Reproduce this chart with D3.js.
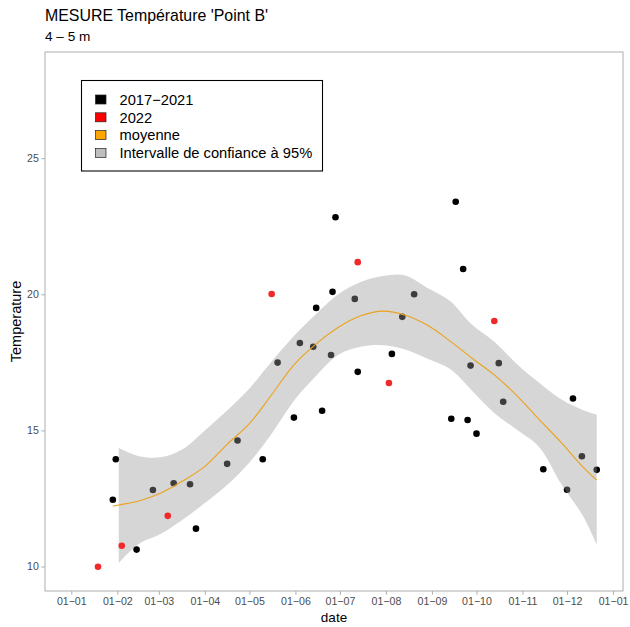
<!DOCTYPE html>
<html>
<head>
<meta charset="utf-8">
<script src="https://cdn.jsdelivr.net/npm/d3@7"></script>
<style>
  body { margin: 0; background: #fff; }
  svg { display: block; font-family: "Liberation Sans", Arial, sans-serif; }
</style>
</head>
<body>
<div id="chart"></div>
<script>
(function(){
  "use strict";

  // measurements 2017-2021 (all years folded on 2022)
  const pastDates = [
    "2022-01-31", "2022-01-29", "2022-02-14", "2022-02-25", "2022-03-11",
    "2022-03-22", "2022-03-26", "2022-04-16", "2022-04-23", "2022-05-10",
    "2022-05-20", "2022-05-31", "2022-06-04", "2022-06-13", "2022-06-15",
    "2022-06-19", "2022-06-25", "2022-06-26", "2022-06-28", "2022-07-11",
    "2022-07-13", "2022-08-05", "2022-08-12", "2022-08-20", "2022-09-14",
    "2022-09-17", "2022-09-22", "2022-09-25", "2022-09-27", "2022-10-01",
    "2022-10-16", "2022-10-19", "2022-11-15", "2022-12-01", "2022-12-05",
    "2022-12-11", "2022-12-21"
  ];
  const pastTemps = [
    13.94, 12.45, 10.62, 12.81, 13.06,
    13.02, 11.39, 13.77, 14.63, 13.94,
    17.49, 15.47, 18.21, 18.07, 19.50,
    15.72, 17.77, 20.09, 22.83, 19.83,
    17.15, 17.81, 19.17, 20.00, 15.43,
    23.40, 20.93, 15.38, 17.38, 14.88,
    17.47, 16.05, 13.57, 12.82, 16.17,
    14.05, 13.55
  ];

  // measurements 2022
  const curDates = [
    "2022-01-19", "2022-02-04", "2022-03-07", "2022-05-16",
    "2022-07-13", "2022-08-03", "2022-10-13"
  ];
  const curTemps = [9.99, 10.76, 11.86, 20.01, 21.18, 16.74, 19.02];

  // smoothed mean and 95% band
  const smoothDates = [
    "2022-01-29", "2022-02-02", "2022-02-15", "2022-03-02", "2022-03-17",
    "2022-04-01", "2022-04-16", "2022-05-01", "2022-05-16", "2022-05-31",
    "2022-06-15", "2022-06-30", "2022-07-15", "2022-07-30", "2022-08-14",
    "2022-08-29", "2022-09-13", "2022-09-28", "2022-10-13", "2022-10-28",
    "2022-11-12", "2022-11-27", "2022-12-12", "2022-12-21"
  ];
  const smoothMean = [
    12.21, 12.26, 12.40, 12.69, 13.14,
    13.68, 14.49, 15.25, 16.31, 17.41,
    18.18, 18.79, 19.21, 19.38, 19.23,
    18.86, 18.29, 17.65, 17.04, 16.29,
    15.41, 14.56, 13.64, 13.17
  ];
  const bandLow = [
    null, 10.13, 10.81, 11.19, 11.72,
    12.33, 12.99, 13.82, 14.88, 16.09,
    17.01, 17.78, 18.07, 18.13, 17.97,
    17.63, 17.26, 16.46, 15.64, 15.03,
    14.40, 13.04, 11.83, 10.81
  ];
  const bandHigh = [
    null, 14.35, 14.06, 14.01, 14.31,
    15.00, 15.73, 16.54, 17.53, 18.47,
    19.28, 20.01, 20.45, 20.67, 20.69,
    20.23, 19.76, 18.88, 18.26, 17.45,
    16.76, 16.14, 15.74, 15.58
  ];

  const yTicks = [10, 15, 20, 25];
  const xLimits = ["2022-01-01", "2022-12-21"];
  const yLimits = [10, 28];

  const legendLabels = ["2017\u22122021", "2022", "moyenne", "Intervalle de confiance \u00e0 95%"];
  const legendColors = ["#000000", "#ff0000", "#ffa500", "#bebebe"];

  const parse = d3.utcParse("%Y-%m-%d");

  // canvas and panel box
  const width = 630, height = 627;
  const panel = {left: 45, top: 52, right: 623, bottom: 591};

  const svg = d3.select("#chart")
    .append("svg")
    .attr("width", width)
    .attr("height", height);

  // ggplot style 5% expansion on both axes
  function expand(lo, hi){
    let pad = (hi - lo) * 0.05;
    return [lo - pad, hi + pad];
  }

  let xl = xLimits.map(s => +parse(s));
  let xs = d3.scaleUtc()
    .domain(expand(xl[0], xl[1]).map(v => new Date(v)))
    .range([panel.left, panel.right]);

  let ys = d3.scaleLinear()
    .domain(expand(yLimits[0], yLimits[1]))
    .range([panel.bottom, panel.top]);

  // titles
  svg.append("text")
    .attr("x", 45).attr("y", 21)
    .attr("font-size", 15.9).attr("fill", "#000")
    .text("MESURE Température 'Point B'");
  svg.append("text")
    .attr("x", 45).attr("y", 41)
    .attr("font-size", 13.6).attr("fill", "#000")
    .text("4 \u2013 5 m");

  // axes (light theme: grey ticks, no grid)
  let xTickDates = d3.utcMonth.range(parse("2022-01-01"), parse("2023-01-02"));
  let xAxis = d3.axisBottom(xs)
    .tickValues(xTickDates)
    .tickFormat(d => d3.utcFormat("%d-%m")(d).replace("-", "\u2212"))
    .tickSizeInner(3.7).tickSizeOuter(0).tickPadding(2.5);
  let gx = svg.append("g")
    .attr("transform", `translate(0,${panel.bottom})`)
    .call(xAxis);

  let yAxis = d3.axisLeft(ys)
    .tickValues(yTicks)
    .tickSizeInner(3.7).tickSizeOuter(0).tickPadding(2.5);
  let gy = svg.append("g")
    .attr("transform", `translate(${panel.left},0)`)
    .call(yAxis);

  [gx, gy].forEach(g => {
    g.select(".domain").remove();
    g.selectAll(".tick line").attr("stroke", "#b3b3b3").attr("stroke-width", 1.07);
    g.selectAll(".tick text")
      .attr("fill", "#4d4d4d")
      .attr("font-size", 10.6)
      .attr("font-family", "Liberation Sans, Arial, sans-serif");
  });

  svg.append("text")
    .attr("x", (panel.left + panel.right) / 2).attr("y", 621.5)
    .attr("text-anchor", "middle")
    .attr("font-size", 13.5)
    .text("date");
  svg.append("text")
    .attr("transform", `translate(20.5,${(panel.top + panel.bottom) / 2}) rotate(-90)`)
    .attr("text-anchor", "middle")
    .attr("font-size", 14.5)
    .text("Temperature");

  // plotting layer, clipped to panel
  svg.append("clipPath").attr("id", "clip")
    .append("rect")
    .attr("x", panel.left).attr("y", panel.top)
    .attr("width", panel.right - panel.left)
    .attr("height", panel.bottom - panel.top);
  let plot = svg.append("g").attr("clip-path", "url(#clip)");

  // 2017-2021 points first, the band is laid over them
  plot.selectAll("circle.past")
    .data(pastDates.map((d, i) => ({date: parse(d), t: pastTemps[i]})))
    .enter().append("circle")
    .attr("class", "past")
    .attr("cx", d => xs(d.date))
    .attr("cy", d => ys(d.t))
    .attr("r", 3.3)
    .attr("fill", "#000");

  let smooth = smoothDates.map((d, i) => ({
    date: parse(d), m: smoothMean[i], lo: bandLow[i], hi: bandHigh[i]
  }));

  let area = d3.area()
    .defined(d => d.lo !== null)
    .x(d => xs(d.date))
    .y0(d => ys(d.lo))
    .y1(d => ys(d.hi))
    .curve(d3.curveCatmullRom.alpha(0.5));

  plot.append("path")
    .datum(smooth)
    .attr("d", area)
    .attr("fill", "#999999")
    .attr("fill-opacity", 0.4);

  let line = d3.line()
    .x(d => xs(d.date))
    .y(d => ys(d.m))
    .curve(d3.curveCatmullRom.alpha(0.5));

  plot.append("path")
    .datum(smooth)
    .attr("d", line)
    .attr("fill", "none")
    .attr("stroke", "#eba21c")
    .attr("stroke-width", 1.1);

  // 2022 points on top
  plot.selectAll("circle.cur")
    .data(curDates.map((d, i) => ({date: parse(d), t: curTemps[i]})))
    .enter().append("circle")
    .attr("class", "cur")
    .attr("cx", d => xs(d.date))
    .attr("cy", d => ys(d.t))
    .attr("r", 3.3)
    .attr("fill", "#f02a2a");

  // panel border
  svg.append("rect")
    .attr("x", panel.left).attr("y", panel.top)
    .attr("width", panel.right - panel.left)
    .attr("height", panel.bottom - panel.top)
    .attr("fill", "none")
    .attr("stroke", "#b3b3b3")
    .attr("stroke-width", 1.07);

  // legend box with keys
  let leg = svg.append("g");
  leg.append("rect")
    .attr("x", 81.5).attr("y", 80.5)
    .attr("width", 241).attr("height", 90.5)
    .attr("fill", "#fff")
    .attr("stroke", "#000")
    .attr("stroke-width", 1.07);

  let rows = leg.selectAll("g.row")
    .data(legendLabels)
    .enter().append("g")
    .attr("class", "row")
    .attr("transform", (d, i) => `translate(0,${99.5 + i * 17.8})`);

  rows.append("rect")
    .attr("x", 95.5).attr("y", -4.5)
    .attr("width", 10.5).attr("height", 9)
    .attr("fill", (d, i) => legendColors[i])
    .attr("stroke", "#222")
    .attr("stroke-width", 0.7);

  rows.append("text")
    .attr("x", 119.5).attr("y", 5.2)
    .attr("font-size", 14.7)
    .text(d => d);
})();
</script>
</body>
</html>
